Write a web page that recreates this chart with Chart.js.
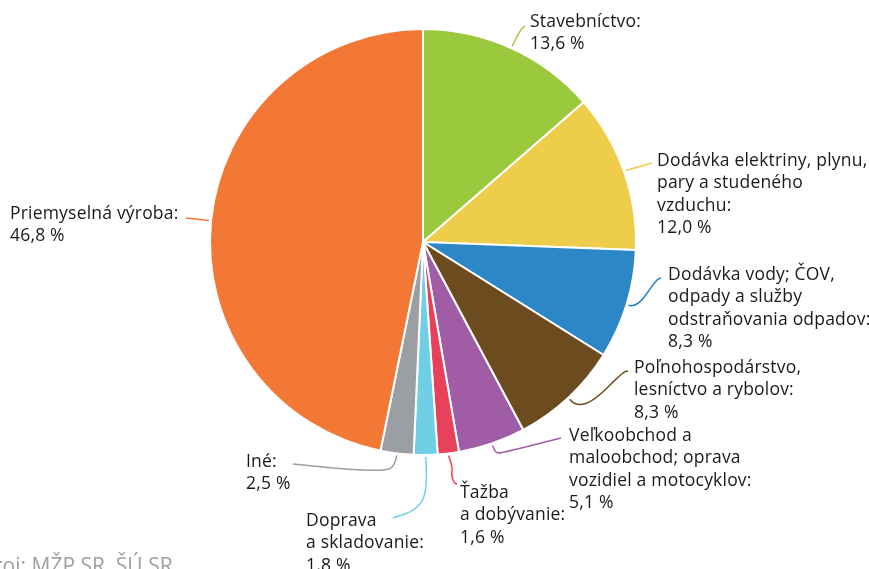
<!DOCTYPE html>
<html lang="sk">
<head>
<meta charset="UTF-8">
<title>Štruktúra podľa odvetví</title>
<script src="https://cdn.jsdelivr.net/npm/chart.js"></script>
<style>
  body { margin: 0; background: #fff; }
  #wrap { position: relative; width: 869px; height: 569px; }
</style>
</head>
<body>
<div id="wrap"><canvas id="pieChart" width="869" height="569"></canvas></div>
<script>
const categories = [
    'Stavebníctvo',
    'Dodávka elektriny, plynu, pary a studeného vzduchu',
    'Dodávka vody; ČOV, odpady a služby odstraňovania odpadov',
    'Poľnohospodárstvo, lesníctvo a rybolov',
    'Veľkoobchod a maloobchod; oprava vozidiel a motocyklov',
    'Ťažba a dobývanie',
    'Doprava a skladovanie',
    'Iné',
    'Priemyselná výroba'
];
const shares = [13.6, 12.0, 8.3, 8.3, 5.1, 1.6, 1.8, 2.5, 46.8];
const labelLines = [
    ['Stavebníctvo:'],
    ['Dodávka elektriny, plynu,', 'pary a studeného', 'vzduchu:'],
    ['Dodávka vody; ČOV,', 'odpady a služby', 'odstraňovania odpadov:'],
    ['Poľnohospodárstvo,', 'lesníctvo a rybolov:'],
    ['Veľkoobchod a', 'maloobchod; oprava', 'vozidiel a motocyklov:'],
    ['Ťažba', 'a dobývanie:'],
    ['Doprava', 'a skladovanie:'],
    ['Iné:'],
    ['Priemyselná výroba:']
];
const colors = ['#9bc93e', '#edcd4a', '#2c87c7', '#6c4b1f', '#a05da5', '#e8415a', '#70cfe5', '#9b9ea2', '#f37735'];
const sourceText = 'Zdroj: MŽP SR, ŠÚ SR';

// where each label sits and how its leader line bends
const labelPos = [
    { x: 530, y: 22,  path: [[520, 30], [525, 26]] },
    { x: 657, y: 161, path: [[645, 165], [652, 163]] },
    { x: 668, y: 275, path: [[637, 308], [656, 280], [661, 278]] },
    { x: 634, y: 368, path: [[575, 406], [593, 402], [623, 372], [628, 371]] },
    { x: 569, y: 436, path: [[495, 453], [502, 453], [561, 438]] },
    { x: 460, y: 493, path: [[453, 468], [451, 474], [454, 483], [457, 484]] },
    { x: 306, y: 521, path: [[428, 490], [417, 510], [393, 518]] },
    { x: 246, y: 462, path: [[395, 467], [383, 471], [343, 469], [293, 464]] },
    { x: 10,  y: 214, path: [[186, 218]] }
];

const fmt = v => v.toFixed(1).replace('.', ',') + ' %';
const FONT = '17.5px "Open Sans", sans-serif';
const LINE_H = 22.4;

const labelPlugin = {
    id: 'pieLabels',
    afterDraw(chart) {
        const ctx = chart.ctx;
        const meta = chart.getDatasetMeta(0);
        ctx.save();
        meta.data.forEach((arc, i) => {
            const p = arc.getProps(['x', 'y', 'startAngle', 'endAngle', 'outerRadius'], true);
            const mid = (p.startAngle + p.endAngle) / 2;
            const sx = p.x + Math.cos(mid) * (p.outerRadius + 2);
            const sy = p.y + Math.sin(mid) * (p.outerRadius + 2);
            const pts = [[sx, sy]].concat(labelPos[i].path);

            ctx.beginPath();
            ctx.moveTo(pts[0][0], pts[0][1]);
            for (let k = 1; k < pts.length - 1; k++) {
                const mx = (pts[k][0] + pts[k + 1][0]) / 2;
                const my = (pts[k][1] + pts[k + 1][1]) / 2;
                ctx.quadraticCurveTo(pts[k][0], pts[k][1], mx, my);
            }
            const last = pts[pts.length - 1];
            ctx.lineTo(last[0], last[1]);
            ctx.strokeStyle = colors[i];
            ctx.lineWidth = 1.5;
            ctx.stroke();

            ctx.fillStyle = '#1a1a1a';
            ctx.font = FONT;
            ctx.letterSpacing = '0.2px';
            ctx.textAlign = 'left';
            ctx.textBaseline = 'middle';
            const lines = labelLines[i].concat([fmt(shares[i])]);
            lines.forEach((t, j) => {
                ctx.fillText(t, labelPos[i].x, labelPos[i].y + j * LINE_H);
            });
        });

        // source note, partly cut off at the left edge like the original
        ctx.fillStyle = '#a0a0a0';
        ctx.font = '21px "Open Sans", sans-serif';
        ctx.letterSpacing = '0px';
        ctx.textBaseline = 'alphabetic';
        const zd = ctx.measureText('Zd').width;
        ctx.fillText(sourceText, -6 - zd, 573);
        ctx.restore();
    }
};

new Chart(document.getElementById('pieChart'), {
    type: 'pie',
    data: {
        labels: categories,
        datasets: [{
            data: shares,
            backgroundColor: colors,
            borderColor: '#ffffff',
            borderWidth: 2
        }]
    },
    options: {
        responsive: false,
        animation: false,
        layout: { padding: { left: 209, right: 232, top: 28, bottom: 113 } },
        plugins: {
            legend: { display: false },
            tooltip: { enabled: false }
        }
    },
    plugins: [labelPlugin]
});
</script>
</body>
</html>
